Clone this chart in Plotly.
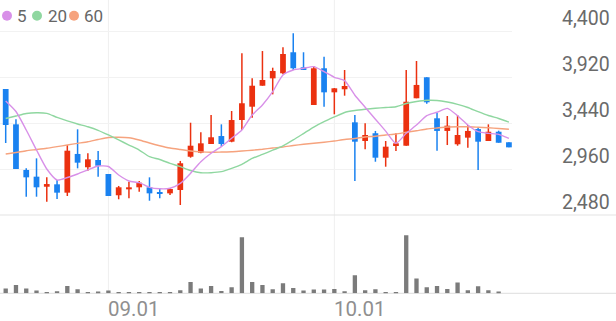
import plotly.graph_objects as go

# ---- data ----
opens = [3795, 3426, 2950, 2880, 2775, 2800, 2713, 3117, 2978, 3054,
         2908, 2686, 2748, 2769, 2769, 2720, 2706, 2741, 3088, 3130,
         3221, 3304, 3245, 3471, 3610, 3829, 3906, 3959, 4178, 4021,
         3628, 4011, 3760, 3792, 3447, 3252, 3333, 3078, 3200, 3203,
         3698, 3917, 3489, 3357, 3218, 3287, 3377, 3252, 3349, 3239]
highs = [3795, 3479, 2967, 3071, 2873, 2845, 3210, 3374, 3124, 3148,
         2908, 2783, 2827, 2835, 2873, 2759, 2762, 3044, 3443, 3343,
         3523, 3426, 3565, 4167, 3906, 4191, 4017, 4230, 4376, 4178,
         4035, 4132, 3805, 3993, 3523, 3437, 3357, 3252, 3332, 3993,
         4087, 3917, 3547, 3513, 3523, 3419, 3391, 3426, 3360, 3239]
lows = [3231, 2960, 2671, 2671, 2619, 2647, 2678, 2967, 2942, 2880,
        2678, 2644, 2654, 2723, 2629, 2654, 2689, 2584, 3078, 3124,
        3221, 3193, 3239, 3367, 3495, 3829, 3739, 3948, 3993, 3993,
        3628, 3610, 3531, 3725, 2835, 3166, 3036, 2984, 3148, 3203,
        3698, 3641, 3151, 3210, 3203, 3182, 2950, 3252, 3234, 3186]
closes = [3419, 2960, 2873, 2769, 2803, 2713, 3151, 3026, 3061, 2994,
          2678, 2769, 2769, 2817, 2706, 2706, 2751, 3020, 3203, 3228,
          3291, 3221, 3471, 3646, 3829, 3889, 3983, 4160, 4011, 3993,
          4011, 3760, 3802, 3826, 3245, 3315, 3078, 3193, 3228, 3662,
          3837, 3656, 3357, 3412, 3315, 3357, 3245, 3349, 3234, 3186]
ma5 = [3670, 3560, 3367, 3158, 2960, 2845, 2871, 2908, 2950, 2991,
       2986, 2897, 2835, 2817, 2769, 2754, 2759, 2810, 2915, 3036,
       3124, 3193, 3280, 3367, 3523, 3628, 3767, 3941, 3993, 4011,
       4028, 3976, 3917, 3882, 3730, 3605, 3480, 3355, 3228, 3332,
       3419, 3516, 3552, 3593, 3516, 3419, 3349, 3332, 3322, 3280]
ma20 = [3487, 3513, 3539, 3547, 3541, 3499, 3463, 3430, 3401, 3364,
        3315, 3263, 3210, 3158, 3088, 3059, 3019, 2984, 2944, 2921,
        2921, 2932, 2967, 3009, 3070, 3113, 3156, 3202, 3263, 3330,
        3398, 3454, 3503, 3550, 3570, 3583, 3594, 3602, 3610, 3643,
        3664, 3677, 3675, 3659, 3635, 3602, 3558, 3518, 3487, 3450]
ma60 = [3117, 3132, 3151, 3163, 3176, 3193, 3210, 3228, 3245, 3268,
        3289, 3291, 3286, 3263, 3231, 3203, 3179, 3163, 3148, 3139,
        3134, 3137, 3140, 3148, 3156, 3166, 3179, 3190, 3205, 3218,
        3228, 3239, 3252, 3268, 3278, 3294, 3302, 3315, 3325, 3343,
        3359, 3377, 3388, 3398, 3401, 3401, 3396, 3390, 3383, 3375]
volume = [47000, 83000, 47000, 27000, 13000, 20000, 73000, 40000, 13000, 17000,
          27000, 10000, 7000, 7000, 10000, 7000, 10000, 30000, 113000, 47000,
          73000, 23000, 60000, 560000, 113000, 83000, 40000, 100000, 53000, 27000,
          37000, 37000, 43000, 20000, 180000, 30000, 40000, 13000, 13000, 580000,
          147000, 60000, 73000, 43000, 107000, 30000, 70000, 30000, 17000, 0]
date_ticks = [10, 32]
date_labels = ["09.01", "10.01"]
price_ticks = [2480, 2960, 3440, 3920, 4400]
price_labels = ["2,480", "2,960", "3,440", "3,920", "4,400"]
ma_names = ["5", "20", "60"]

# ---- style ----
RED = "#eb3110"
BLUE = "#1a82f0"
MA_COLORS = ["#d890e8", "#8fd7a0", "#f6a37e"]
W, H = 616, 321
PLOT_W = 512
def py(px):
    return 1 - px / H

idx = list(range(len(opens)))
fig = go.Figure()

up = [c >= o for o, c in zip(opens, closes)]
for is_up, col in [(True, RED), (False, BLUE)]:
    xs, bases, hts = [], [], []
    wx, wy = [], []
    for i in idx:
        if up[i] != is_up:
            continue
        lo_b = min(opens[i], closes[i])
        hi_b = max(opens[i], closes[i])
        xs.append(i)
        bases.append(lo_b)
        hts.append(max(hi_b - lo_b, 12))
        wx += [i, i, None]
        wy += [lows[i], highs[i], None]
    fig.add_trace(go.Scatter(x=wx, y=wy, mode="lines", line=dict(color=col, width=1.5),
                             xaxis="x", yaxis="y", hoverinfo="skip", showlegend=False))
    fig.add_trace(go.Bar(x=xs, y=hts, base=bases, width=0.56, marker=dict(color=col, line=dict(width=0)),
                         xaxis="x", yaxis="y", showlegend=False))

for vals, col in zip([ma60, ma20, ma5], [MA_COLORS[2], MA_COLORS[1], MA_COLORS[0]]):
    fig.add_trace(go.Scatter(x=idx, y=vals, mode="lines", line=dict(color=col, width=1.4, shape="spline", smoothing=0.6),
                             xaxis="x", yaxis="y", showlegend=False))

fig.add_trace(go.Bar(x=idx, y=volume, width=0.42, marker=dict(color="#7b7b7b", line=dict(width=0)),
                     xaxis="x", yaxis="y2", showlegend=False))

shapes = []
for t in date_ticks:
    shapes.append(dict(type="line", xref="x", yref="paper", x0=t, x1=t, y0=py(293.3), y1=1,
                       line=dict(color="#efefef", width=1), layer="below"))
for p in [215, 293.3]:
    shapes.append(dict(type="line", xref="paper", yref="paper", x0=0, x1=W / PLOT_W, y0=py(p), y1=py(p),
                       line=dict(color="#e4e4e4", width=1.2), layer="below"))
annotations = []
leg_x = [7, 37, 74]
txt_x = [15, 46, 82]
for cx, tx, col, name in zip(leg_x, txt_x, MA_COLORS, ma_names):
    shapes.append(dict(type="circle", xref="paper", yref="paper",
                       x0=(cx - 5) / PLOT_W, x1=(cx + 5) / PLOT_W, y0=py(20.7), y1=py(10.7),
                       fillcolor=col, line=dict(width=0)))
    annotations.append(dict(xref="paper", yref="paper", x=tx / PLOT_W, y=py(16), xanchor="left", yanchor="middle",
                            text=name, showarrow=False, font=dict(size=17, color="#666666")))

for v, lab in zip(price_ticks, price_labels):
    annotations.append(dict(xref="paper", yref="y", x=612 / PLOT_W, y=v, xanchor="right", yanchor="middle",
                            yshift=13, text=lab, showarrow=False, font=dict(size=19.5, color="#6a6a6a")))
for t, lab in zip(date_ticks, date_labels):
    annotations.append(dict(xref="x", yref="paper", x=t, y=py(309), xanchor="left", yanchor="middle",
                            xshift=-2, text=lab, showarrow=False, font=dict(size=20.5, color="#8f8f8f")))

top_px = 25
price_top = 4400 + (31 - top_px) * 480 / 46

fig.update_layout(
    width=W, height=H,
    margin=dict(l=0, r=W - PLOT_W, t=0, b=0),
    paper_bgcolor="white", plot_bgcolor="white",
    font=dict(family="Roboto"),
    barmode="overlay",
    showlegend=False,
    xaxis=dict(range=[-0.555, 49.3], showgrid=False, zeroline=False, showticklabels=False,
               anchor="y2", fixedrange=True),
    yaxis=dict(domain=[py(215), py(top_px)], range=[2480, price_top], tickvals=price_ticks[1:],
               showgrid=True, gridcolor="#f2f2f2", gridwidth=1, zeroline=False, showticklabels=False),
    yaxis2=dict(domain=[py(293.3), py(225)], range=[0, 683000], showgrid=False, zeroline=False,
                showticklabels=False),
    shapes=shapes,
    annotations=annotations,
)

fig.write_html("out.html")
